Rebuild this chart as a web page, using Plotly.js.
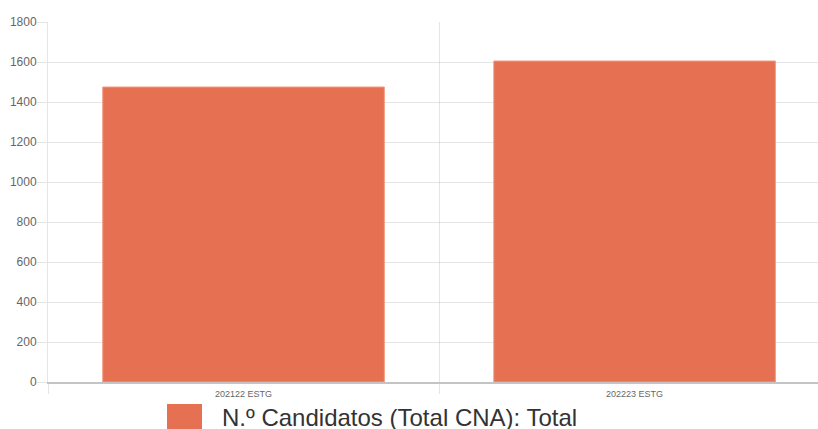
<!DOCTYPE html>
<html>
<head>
<meta charset="utf-8">
<script src="https://cdn.plot.ly/plotly-3.0.1.min.js"></script>
<style>
  html, body { margin: 0; padding: 0; background: #FFFFFF; }
  #chart { width: 818px; height: 429px; }
</style>
</head>
<body>
<div id="chart"></div>
<script>
// Candidatos por ano lectivo
const categories = ['202122 ESTG', '202223 ESTG'];
const candidatos = [1475, 1605];
const seriesName = 'N.º Candidatos (Total CNA): Total';

const barColor = '#E57052';
const gridColor = 'rgba(0,0,0,0.1)';
const fontFamily = "'Liberation Sans', Arial, sans-serif";

const data = [
  {
    x: categories,
    y: candidatos,
    type: 'bar',
    width: 0.72,
    marker: { color: barColor, line: { color: '#F29A80', width: 1 } },
    name: seriesName,
    showlegend: false,
    hoverinfo: 'skip',
  },
];

// legend drawn by hand so the swatch can be as big as the original
const plotLeft = 48, plotWidth = 770, plotTop = 22, plotHeight = 360;
const px = x => (x - plotLeft) / plotWidth;
const py = y => (plotTop + plotHeight - y) / plotHeight;

const layout = {
  width: 818,
  height: 429,
  autosize: false,
  font: { family: fontFamily, size: 12, color: '#666666' },
  plot_bgcolor: '#FFFFFF',
  paper_bgcolor: '#FFFFFF',
  margin: { l: plotLeft, r: 818 - plotLeft - plotWidth, t: plotTop, b: 429 - plotTop - plotHeight, pad: 0 },
  bargap: 0,
  xaxis: {
    type: 'category',
    range: [-0.5, 1.469],
    tickson: 'boundaries',
    showgrid: true,
    gridcolor: gridColor,
    ticks: 'outside',
    ticklen: 10,
    tickcolor: gridColor,
    showline: true,
    linecolor: '#C4C4C4',
    linewidth: 1.5,
    tickfont: { size: 9, color: '#666666' },
    ticklabelstandoff: 3,
    fixedrange: true,
  },
  yaxis: {
    range: [0, 1800],
    dtick: 200,
    showgrid: true,
    gridcolor: gridColor,
    zeroline: false,
    ticks: 'outside',
    ticklen: 10,
    tickcolor: gridColor,
    showline: true,
    linecolor: gridColor,
    tickfont: { size: 12, color: '#666666' },
    ticklabelstandoff: -2,
    fixedrange: true,
  },
  shapes: [
    {
      type: 'rect', xref: 'paper', yref: 'paper',
      x0: px(167), x1: px(202), y0: py(404), y1: py(429),
      fillcolor: barColor, line: { width: 0 },
    },
  ],
  annotations: [
    {
      xref: 'paper', yref: 'paper',
      x: px(220), y: py(417),
      xanchor: 'left', yanchor: 'middle',
      text: seriesName,
      showarrow: false,
      font: { size: 24, color: '#333333', family: fontFamily },
    },
  ],
};

Plotly.newPlot('chart', data, layout, { displayModeBar: false, staticPlot: true });
</script>
</body>
</html>
